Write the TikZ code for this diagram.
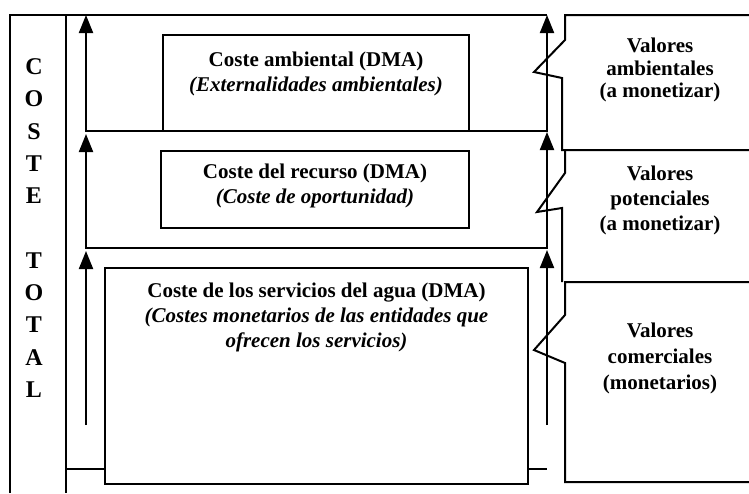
\documentclass[tikz,border=0pt]{standalone}
\usepackage{fontspec}
\setmainfont{Liberation Serif}
\usetikzlibrary{arrows.meta,positioning}

\tikzset{
  caja/.style={draw, inner sep=0pt, outer sep=0pt},
  texto/.style={font=\fontsize{21}{25}\selectfont\bfseries, align=center, inner sep=0pt, anchor=north},
  letra/.style={font=\fontsize{24}{24}\selectfont\bfseries, inner sep=0pt},
  punta/.tip={Triangle[length=18pt,width=14pt]},
}

\begin{document}
\begin{tikzpicture}[x=1pt,y=-1pt,line width=2pt]
  \useasboundingbox (0,0) rectangle (749,493);
  \draw (10,493) -- (10,15) -- (547,15); %borde superior
  \draw (66,15) -- (66,493); %columna coste total
  \foreach \l/\y in {C/67,O/99,S/132,T/164,E/196,T/261,O/293,T/325,A/358,L/390}
    \node[letra] (letra\y) at (34,\y) {\l};

  \node[caja, minimum width=306pt, minimum height=96pt] (ambiental) at (316,83) {};
  \node[texto, below=16pt of ambiental.north] (tambiental) {Coste ambiental (DMA)\\\textit{(Externalidades ambientales)}};
  \node[caja, minimum width=308pt, minimum height=77pt] (recurso) at (315,189.5) {};
  \node[texto, below=12pt of recurso.north] (trecurso) {Coste del recurso (DMA)\\\textit{(Coste de oportunidad)}};
  \node[caja, minimum width=423pt, minimum height=216pt] (servicios) at (316.5,376) {};
  \node[texto, below=14pt of servicios.north] (tservicios) {Coste de los servicios del agua (DMA)\\\textit{(Costes monetarios de las entidades que}\\\textit{ofrecen los servicios)}};

  \draw[punta-punta] (86,15) -- (86,131) -- (547,131) -- (547,15); %capa ambiental
  \draw[punta-punta] (86,134) -- (86,248) -- (547,248) -- (547,132); %capa recurso
  \draw[-punta] (86,425) -- (86,251);
  \draw[-punta] (547,425) -- (547,250);
  \draw (66,469) -- (servicios.west |- 0,469);
  \draw (servicios.east |- 0,469) -- (547,469);

  \draw (749,15) -- (565,15) -- (565,40) -- (534,72) -- (562,78) -- (562,150) -- (749,150); %valores ambientales
  \node[texto, font=\fontsize{21}{22.5}\selectfont\bfseries] (vambientales) at (660,37) {Valores\\ambientales\\(a monetizar)};
  \draw (565,150) -- (565,173) -- (537,212) -- (562,208) -- (562,282); %valores potenciales
  \node[texto] (vpotenciales) at (660,165) {Valores\\potenciales\\(a monetizar)};
  \draw (749,282) -- (565,282) -- (565,315) -- (534,350) -- (565,363) -- (565,482) -- (749,482); %valores comerciales
  \node[texto, font=\fontsize{21}{26}\selectfont\bfseries] (vcomerciales) at (660,322) {Valores\\comerciales\\(monetarios)};
\end{tikzpicture}
\end{document}
